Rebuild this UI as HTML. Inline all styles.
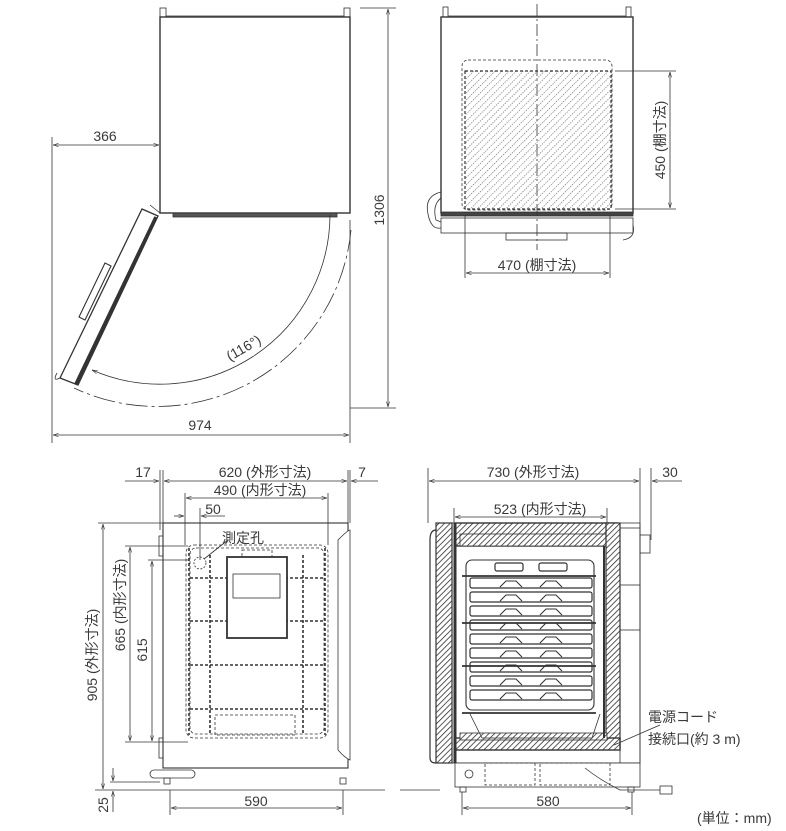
<!DOCTYPE html>
<html><head><meta charset="utf-8">
<style>
html,body{margin:0;padding:0;background:#fff;}
svg{display:block;}
text{font-family:"Liberation Sans","Noto Sans CJK JP",sans-serif;fill:#3a3a3a;font-size:14px;}
</style></head><body>
<svg width="786" height="831" viewBox="0 0 786 831" xmlns="http://www.w3.org/2000/svg">
<defs>
<pattern id="hatch" width="4" height="4" patternUnits="userSpaceOnUse" patternTransform="rotate(45)">
<rect width="4" height="4" fill="#fff"/><line x1="0" y1="0" x2="0" y2="4" stroke="#222" stroke-width="1.5"/>
</pattern>
<pattern id="dots" width="5" height="5" patternUnits="userSpaceOnUse" patternTransform="rotate(45)">
<rect width="5" height="5" fill="#fff"/><line x1="0" y1="0" x2="0" y2="5" stroke="#666" stroke-width="1.2" stroke-dasharray="1.5 1"/>
</pattern>
<marker id="a" viewBox="0 0 10 10" refX="10" refY="5" markerWidth="7" markerHeight="7" orient="auto-start-reverse"><path d="M0,2 L10,5 L0,8" fill="none" stroke="#333" stroke-width="1"/></marker>
</defs>
<g stroke="#333" fill="none" stroke-width="0.8">

<!-- ===== TOP LEFT VIEW ===== -->
<rect x="160" y="17" width="190" height="196" stroke-width="1.4" fill="#fff"/>
<rect x="160" y="8" width="6" height="9"/><rect x="344" y="8" width="6" height="9"/>
<line x1="166" y1="16" x2="344" y2="16"/>
<rect x="173" y="213" width="164" height="4" fill="#555"/>
<line x1="360" y1="8" x2="396" y2="8"/><line x1="350" y1="408" x2="396" y2="408"/>
<line x1="388" y1="9" x2="388" y2="407" marker-start="url(#a)" marker-end="url(#a)"/>
<line x1="52" y1="137" x2="52" y2="443"/>
<line x1="350" y1="220" x2="350" y2="443"/>
<line x1="53" y1="145" x2="159" y2="145" marker-start="url(#a)" marker-end="url(#a)"/>
<line x1="53" y1="435" x2="349" y2="435" marker-start="url(#a)" marker-end="url(#a)"/>
<polygon points="142,209 158,216 78,385 60,378" fill="#fff" stroke-width="1.3"/>
<line x1="156" y1="217" x2="76" y2="384" stroke-width="3.5"/>
<polygon points="105,263 111,266 85,320 79,317" fill="#fff" stroke-width="1.1"/>
<path d="M60,378 Q52,382 57,373"/>
<path d="M330,215 A170,170 0 0 1 92,370" marker-end="url(#a)"/>
<path d="M351,230 A195,195 0 0 1 74,388" stroke-dasharray="22 4 3 4"/>
<line x1="160" y1="213" x2="150" y2="205"/>

<!-- ===== TOP RIGHT VIEW ===== -->
<rect x="441" y="17" width="192" height="196" stroke-width="1.4" fill="#fff"/>
<rect x="443" y="7" width="5" height="10"/><rect x="626" y="7" width="5" height="10"/>
<line x1="448" y1="16" x2="626" y2="16"/>
<rect x="462" y="60" width="150" height="150" rx="6" stroke-dasharray="3 2"/>
<rect x="465" y="71" width="146" height="138" fill="url(#dots)" stroke-dasharray="3 2" stroke-width="1.2"/>
<rect x="441" y="212" width="192" height="4" fill="#444"/>
<rect x="441" y="218" width="192" height="15" fill="#fff"/>
<rect x="506" y="233" width="61" height="7"/>
<path d="M441,192 Q424,196 428,214 Q431,230 441,228"/><path d="M441,198 Q432,205 436,220 L441,222"/>
<path d="M633,225 Q636,238 623,240"/>
<line x1="537" y1="4" x2="537" y2="250" stroke-dasharray="12 3 2 3"/>
<line x1="615" y1="71" x2="676" y2="71"/><line x1="615" y1="209" x2="676" y2="209"/>
<line x1="670" y1="72" x2="670" y2="208" marker-start="url(#a)" marker-end="url(#a)"/>
<line x1="465" y1="215" x2="465" y2="278"/><line x1="610" y1="215" x2="610" y2="278"/>
<line x1="466" y1="273" x2="609" y2="273" marker-start="url(#a)" marker-end="url(#a)"/>

<!-- ===== BOTTOM LEFT VIEW ===== -->
<rect x="163" y="523" width="185" height="245" fill="#fff" stroke-width="1.1"/>
<path d="M338,540 Q348,530 350,530 L350,760 Q345,758 338,750 Z" fill="#fff"/>
<rect x="159" y="536" width="4" height="20"/><rect x="159" y="738" width="4" height="20"/>
<rect x="186" y="545" width="142" height="193" rx="8" stroke-dasharray="3 2"/>
<rect x="190" y="548" width="134" height="186" rx="6" stroke-dasharray="3 2"/>
<g stroke-dasharray="3 2" stroke-width="1.6">
<line x1="210" y1="555" x2="210" y2="735"/><line x1="303" y1="555" x2="303" y2="735"/>
<line x1="190" y1="578" x2="325" y2="578"/><line x1="190" y1="621" x2="325" y2="621"/>
<line x1="190" y1="665" x2="325" y2="665"/><line x1="190" y1="709" x2="325" y2="709"/>
<line x1="189" y1="548" x2="189" y2="735"/><line x1="325" y1="548" x2="325" y2="735"/>
</g>
<rect x="242" y="550" width="30" height="23" stroke-dasharray="3 2"/>
<rect x="227" y="557" width="60" height="81" stroke-width="1.8" fill="#fff"/>
<rect x="233" y="574" width="47" height="24"/>
<rect x="215" y="715" width="80" height="20" stroke-dasharray="3 2"/>
<circle cx="200" cy="563" r="6" stroke-dasharray="2 1.5"/>
<line x1="204" y1="559" x2="228" y2="540"/>
<rect x="150" y="770" width="45" height="8" rx="4"/>
<line x1="163" y1="768" x2="348" y2="768"/>
<rect x="164" y="778" width="6" height="6"/><rect x="340" y="778" width="6" height="6"/>
<line x1="95" y1="790" x2="385" y2="790"/>
<line x1="160" y1="470" x2="160" y2="530"/><line x1="163" y1="470" x2="163" y2="523"/>
<line x1="348" y1="470" x2="348" y2="523"/><line x1="350" y1="470" x2="350" y2="523"/>
<line x1="125" y1="481" x2="159" y2="481" marker-end="url(#a)"/>
<line x1="164" y1="481" x2="347" y2="481" marker-start="url(#a)" marker-end="url(#a)"/>
<line x1="351" y1="481" x2="378" y2="481" marker-start="url(#a)"/>
<line x1="185" y1="493" x2="185" y2="545"/><line x1="328" y1="493" x2="328" y2="545"/>
<line x1="186" y1="498" x2="327" y2="498" marker-start="url(#a)" marker-end="url(#a)"/>
<line x1="200" y1="508" x2="200" y2="560"/>
<line x1="174" y1="516" x2="184" y2="516" marker-end="url(#a)"/><line x1="201" y1="516" x2="225" y2="516" marker-start="url(#a)"/>
<line x1="98" y1="523" x2="163" y2="523"/>
<line x1="103" y1="524" x2="103" y2="789" marker-start="url(#a)" marker-end="url(#a)"/>
<line x1="125" y1="546" x2="188" y2="546"/><line x1="125" y1="742" x2="188" y2="742"/>
<line x1="130" y1="547" x2="130" y2="741" marker-start="url(#a)" marker-end="url(#a)"/>
<line x1="148" y1="560" x2="190" y2="560"/>
<line x1="152" y1="561" x2="152" y2="741" marker-start="url(#a)" marker-end="url(#a)"/>
<line x1="110" y1="782" x2="160" y2="782"/>
<line x1="113" y1="768" x2="113" y2="781" marker-end="url(#a)"/><line x1="113" y1="791" x2="113" y2="812" marker-start="url(#a)"/>
<line x1="170" y1="790" x2="170" y2="815"/><line x1="343" y1="790" x2="343" y2="815"/>
<line x1="171" y1="808" x2="342" y2="808" marker-start="url(#a)" marker-end="url(#a)"/>

<!-- ===== BOTTOM RIGHT VIEW ===== -->
<rect x="436" y="523" width="204" height="240" fill="#fff"/>
<path d="M436,530 Q430,530 430,540 L430,758 Q430,763 436,763" stroke-width="1.2"/>
<rect x="455" y="523" width="162" height="23" fill="url(#hatch)" stroke-width="1.4"/>
<rect x="460" y="534" width="147" height="12" fill="url(#hatch)"/>
<rect x="436" y="523" width="16" height="240" fill="url(#hatch)" stroke-width="1.2"/>
<rect x="606" y="523" width="14" height="225" fill="url(#hatch)" stroke-width="1.2"/>
<rect x="455" y="738" width="165" height="12" fill="url(#hatch)" stroke-width="1.4"/>
<rect x="460" y="733" width="147" height="7" fill="url(#hatch)"/>
<line x1="455" y1="523" x2="455" y2="763" stroke-width="3"/>
<line x1="604" y1="546" x2="604" y2="738" stroke-width="2"/>
<rect x="466" y="560" width="128" height="150" rx="6" stroke-width="1.1"/>
<g fill="#fff" stroke-width="1.2">
<rect x="495" y="563" width="28" height="8" rx="2"/><rect x="539" y="563" width="28" height="8" rx="2"/>
<rect x="470" y="578" width="122" height="10" rx="2"/><rect x="470" y="592" width="122" height="10" rx="2"/>
<rect x="470" y="606" width="122" height="10" rx="2"/><rect x="470" y="620" width="122" height="10" rx="2"/>
<rect x="470" y="634" width="122" height="10" rx="2"/><rect x="470" y="648" width="122" height="10" rx="2"/>
<rect x="470" y="662" width="122" height="10" rx="2"/><rect x="470" y="676" width="122" height="10" rx="2"/>
<rect x="470" y="690" width="122" height="10" rx="2"/>
</g>
<g stroke-width="1.1">
<path d="M500,587 l6,-6 h10 l6,6 M540,587 l6,-6 h10 l6,6"/>
<path d="M500,601 l6,-6 h10 l6,6 M540,601 l6,-6 h10 l6,6"/>
<path d="M500,615 l6,-6 h10 l6,6 M540,615 l6,-6 h10 l6,6"/>
<path d="M500,629 l6,-6 h10 l6,6 M540,629 l6,-6 h10 l6,6"/>
<path d="M500,643 l6,-6 h10 l6,6 M540,643 l6,-6 h10 l6,6"/>
<path d="M500,657 l6,-6 h10 l6,6 M540,657 l6,-6 h10 l6,6"/>
<path d="M500,671 l6,-6 h10 l6,6 M540,671 l6,-6 h10 l6,6"/>
<path d="M500,685 l6,-6 h10 l6,6 M540,685 l6,-6 h10 l6,6"/>
<path d="M500,699 l6,-6 h10 l6,6 M540,699 l6,-6 h10 l6,6"/>
</g>
<g stroke-width="1.8">
<line x1="462" y1="576" x2="596" y2="576"/><line x1="462" y1="623" x2="596" y2="623"/>
<line x1="462" y1="666" x2="596" y2="666"/><line x1="462" y1="713" x2="596" y2="713"/>
</g>
<path d="M470,714 L482,738 L592,738 L600,714"/>
<rect x="620" y="528" width="20" height="235"/>
<rect x="640" y="535" width="10" height="18"/>
<rect x="620" y="585" width="20" height="45"/>
<rect x="455" y="763" width="185" height="24" fill="#fff"/>
<rect x="485" y="763" width="50" height="22" stroke-dasharray="3 2"/>
<rect x="540" y="763" width="70" height="22" stroke-dasharray="3 2"/>
<circle cx="469" cy="774" r="4"/>
<rect x="460" y="787" width="6" height="5"/><rect x="628" y="787" width="6" height="5"/>
<line x1="400" y1="790" x2="440" y2="790"/>
<path d="M585,768 Q600,780 620,790 L660,790"/><rect x="660" y="786" width="12" height="8"/>
<line x1="614" y1="745" x2="660" y2="725"/>
<line x1="428" y1="468" x2="428" y2="523"/><line x1="640" y1="468" x2="640" y2="528"/><line x1="651" y1="468" x2="651" y2="540"/>
<line x1="429" y1="481" x2="639" y2="481" marker-start="url(#a)" marker-end="url(#a)"/>
<line x1="652" y1="481" x2="682" y2="481" marker-start="url(#a)"/>
<line x1="454" y1="508" x2="454" y2="523"/><line x1="607" y1="508" x2="607" y2="523"/>
<line x1="455" y1="517" x2="606" y2="517" marker-start="url(#a)" marker-end="url(#a)"/>
<line x1="462" y1="792" x2="462" y2="815"/><line x1="632" y1="792" x2="632" y2="815"/>
<line x1="463" y1="808" x2="631" y2="808" marker-start="url(#a)" marker-end="url(#a)"/>
</g>

<!-- TEXT -->
<text x="105" y="141" text-anchor="middle">366</text>
<text x="200" y="430" text-anchor="middle">974</text>
<text transform="translate(384,210) rotate(-90)" text-anchor="middle">1306</text>
<text transform="translate(246,352) rotate(-30)" text-anchor="middle">(116°)</text>
<text transform="translate(665,140) rotate(-90)" text-anchor="middle" font-size="13">450 (棚寸法)</text>
<text x="537" y="270" text-anchor="middle" font-size="13">470 (棚寸法)</text>
<text x="143" y="477" text-anchor="middle" font-size="13">17</text>
<text x="265" y="477" text-anchor="middle" font-size="13">620 (外形寸法)</text>
<text x="362" y="477" text-anchor="middle" font-size="13">7</text>
<text x="260" y="495" text-anchor="middle" font-size="13">490 (内形寸法)</text>
<text x="213" y="514" text-anchor="middle" font-size="13">50</text>
<text x="222" y="543" font-size="13">測定孔</text>
<text transform="translate(97,655) rotate(-90)" text-anchor="middle" font-size="13">905 (外形寸法)</text>
<text transform="translate(125,605) rotate(-90)" text-anchor="middle" font-size="13">665 (内形寸法)</text>
<text transform="translate(147,650) rotate(-90)" text-anchor="middle" font-size="13">615</text>
<text transform="translate(108,805) rotate(-90)" text-anchor="middle" font-size="13">25</text>
<text x="256" y="806" text-anchor="middle" font-size="13">590</text>
<text x="533" y="477" text-anchor="middle" font-size="13">730 (外形寸法)</text>
<text x="670" y="477" text-anchor="middle" font-size="13">30</text>
<text x="540" y="514" text-anchor="middle" font-size="13">523 (内形寸法)</text>
<text x="548" y="806" text-anchor="middle" font-size="13">580</text>
<text x="648" y="722" font-size="15">電源コード</text>
<text x="648" y="744" font-size="15">接続口(約 3 m)</text>
<text x="697" y="823" font-size="14">(単位：mm)</text>
</svg>
</body></html>
